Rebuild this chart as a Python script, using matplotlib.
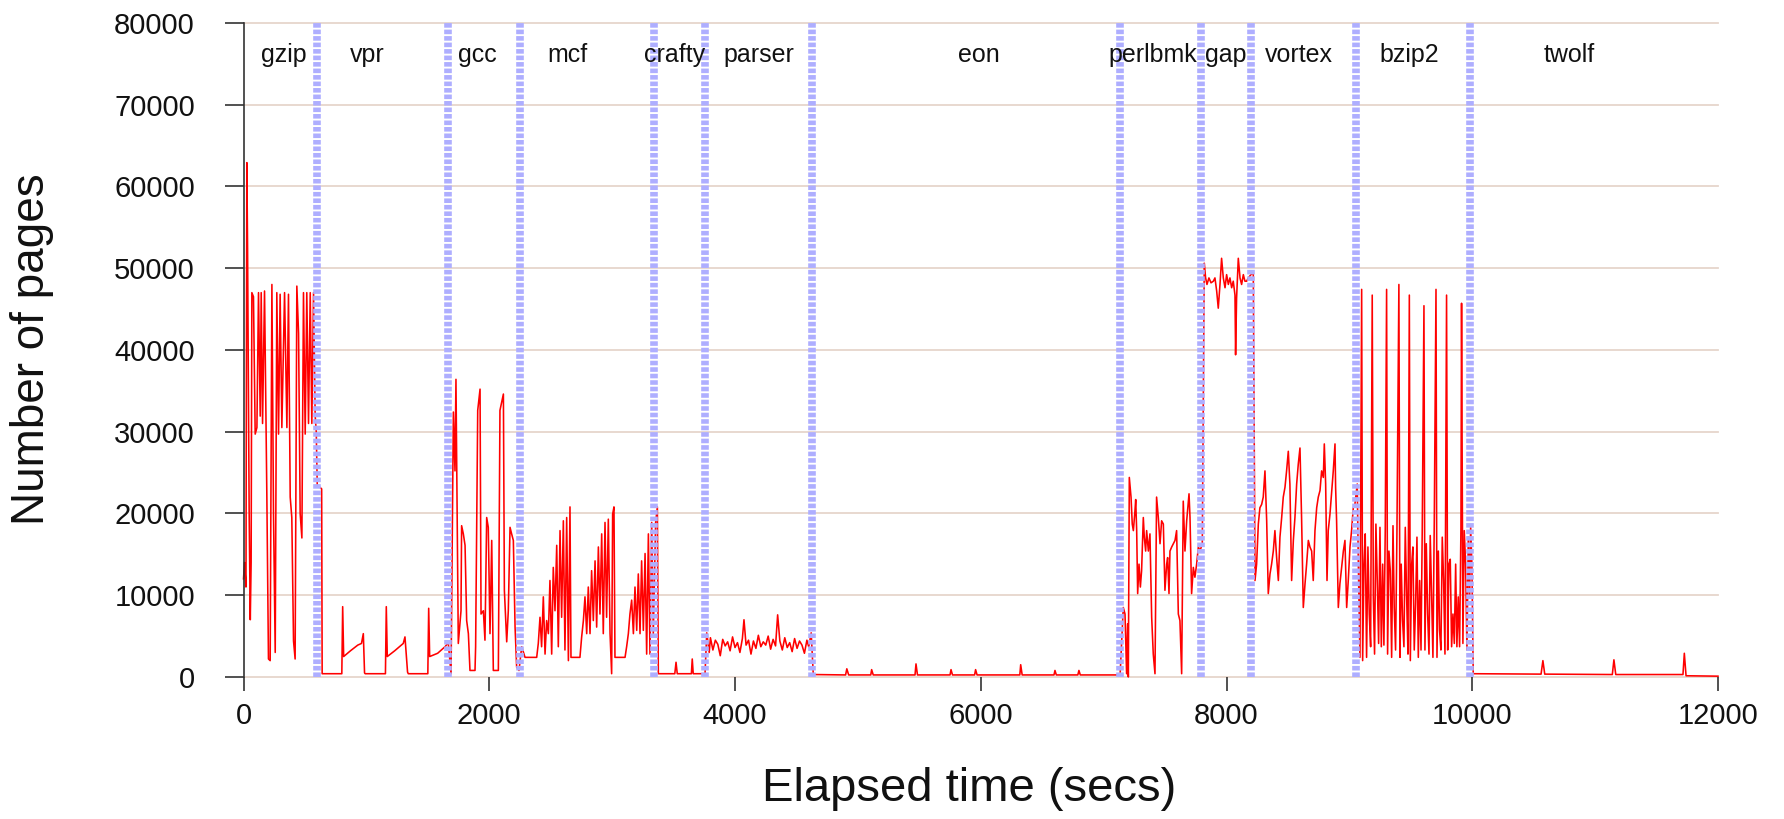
import matplotlib
matplotlib.use("Agg")
import matplotlib.pyplot as plt
import numpy as np

plt.rcParams['font.family'] = ['Liberation Sans', 'DejaVu Sans']

# benchmark boundaries (secs) and label positions
bounds = [595, 1664, 2250, 3343, 3756, 4630, 7134, 7790, 8197, 9058, 9981]
bench_names = ['gzip', 'vpr', 'gcc', 'mcf', 'crafty', 'parser', 'eon',
               'perlbmk', 'gap', 'vortex', 'bzip2', 'twolf']
label_x = [324, 1009, 1907, 2639, 3509, 4194, 5981, 7398, 7991, 8593, 9491, 10790]

# page counts, one pair of lists per benchmark
gzip_t = [0, 8, 20, 27, 33, 46, 55, 62, 68, 81, 95, 109, 122, 136, 144, 155, 171,
          190, 203, 217, 231, 244, 258, 271, 285, 298, 312, 334, 353, 366, 380, 393,
          407, 420, 434, 448, 461, 475, 488, 502, 515, 529, 543, 556, 570, 583]
gzip_p = [12000, 14000, 11000, 62900, 52400, 20000, 7000, 14000, 47000, 46500, 29700,
          30500, 47000, 31900, 47000, 31000, 47200, 22000, 2200, 2000, 48000, 20000,
          3000, 47000, 29700, 46800, 30500, 47000, 30500, 46800, 22000, 19500, 4400,
          2200, 47800, 42000, 20000, 17000, 47000, 29700, 47000, 31000, 47000, 31000,
          47000, 32000]

vpr_t = [592, 600, 636, 640, 800, 807, 815, 870, 930, 960, 975, 985, 990, 1155, 1162,
         1170, 1230, 1300, 1314, 1335, 1341, 1500, 1507, 1515, 1580, 1640, 1662]
vpr_p = [30000, 23500, 23000, 400, 400, 8600, 2500, 3200, 3900, 4100, 5300, 500, 400,
         400, 8600, 2500, 3200, 4100, 4900, 600, 400, 400, 8400, 2500, 2900, 3700, 4100]

gcc_t = [1667, 1689, 1708, 1721, 1729, 1748, 1770, 1775, 1789, 1803, 1816, 1830, 1843,
         1884, 1889, 1906, 1925, 1933, 1952, 1965, 1979, 1992, 2006, 2020, 2033, 2074,
         2087, 2115, 2123, 2142, 2155, 2169, 2182, 2196, 2210, 2223, 2242]
gcc_p = [4100, 400, 32400, 25200, 36400, 4100, 8100, 18500, 17500, 16100, 6900, 5300,
         800, 800, 3700, 32600, 35200, 7700, 8100, 4500, 19500, 18300, 5300, 16700, 800,
         800, 32600, 34600, 10600, 4300, 8100, 18300, 17500, 16700, 6100, 1200, 800]

mcf_t = [2264, 2291, 2386, 2399, 2413, 2426, 2440, 2454, 2467, 2481, 2494, 2508, 2521,
         2535, 2549, 2562, 2576, 2589, 2603, 2616, 2630, 2644, 2657, 2665, 2738, 2752,
         2766, 2779, 2793, 2806, 2820, 2833, 2847, 2861, 2874, 2888, 2901, 2915, 2928,
         2942, 2955, 2969, 2983, 2996, 3004, 3015, 3023, 3105, 3118, 3132, 3145, 3159,
         3173, 3186, 3200, 3213, 3227, 3240, 3254, 3268, 3281, 3295, 3308, 3322, 3335,
         3354, 3368]
mcf_p = [3700, 2400, 2400, 4100, 7300, 3700, 9800, 2800, 6900, 5300, 11800, 2800, 13400,
         8100, 16100, 3700, 17900, 7300, 19100, 3300, 19500, 2000, 20800, 2400, 2400,
         4900, 6900, 9800, 5300, 11000, 5300, 13000, 6900, 14200, 6100, 15900, 7700,
         17500, 5300, 18900, 7300, 19300, 5300, 400, 19900, 20800, 2400, 2400, 3700,
         5300, 7700, 9400, 5300, 11000, 5700, 12600, 5300, 14200, 5700, 15100, 2800,
         17500, 2800, 18900, 5300, 18900, 20800]

crafty_t = [3376, 3510, 3520, 3530, 3645, 3652, 3660, 3756]
crafty_p = [400, 400, 1800, 400, 400, 2200, 400, 400]

parser_t = [3770, 3790, 3800, 3820, 3840, 3860, 3880, 3900, 3920, 3940, 3960, 3980,
            4000, 4020, 4040, 4060, 4073, 4090, 4110, 4130, 4150, 4170, 4190, 4210,
            4230, 4250, 4270, 4290, 4310, 4330, 4347, 4365, 4385, 4405, 4425, 4445,
            4465, 4485, 4505, 4525, 4545, 4565, 4585, 4600, 4620]
parser_p = [5400, 3000, 4800, 3300, 4500, 4000, 2600, 4600, 3800, 4300, 3200, 4900,
            3600, 4200, 3000, 4700, 7000, 3900, 4500, 2800, 4400, 3500, 5100, 3700,
            4300, 3900, 5000, 3400, 4600, 3800, 7600, 4400, 3300, 4800, 3600, 4200,
            3100, 4700, 3500, 4400, 3900, 2900, 4500, 3700, 5400]

eon_t = [4637, 4900, 4910, 4925, 5105, 5112, 5125, 5465, 5473, 5485, 5750, 5758, 5770,
         5950, 5958, 5970, 6318, 6325, 6337, 6596, 6604, 6615, 6790, 6799, 6810, 7134]
eon_p = [300, 250, 1000, 250, 250, 900, 250, 250, 1600, 250, 250, 900, 250, 250, 900,
         250, 250, 1500, 250, 250, 800, 250, 250, 800, 250, 250]

perlbmk_t = [7160, 7174, 7187, 7195, 7201, 7209, 7223, 7233, 7242, 7255, 7261, 7269,
             7277, 7288, 7299, 7309, 7323, 7331, 7342, 7350, 7364, 7377, 7391, 7404,
             7418, 7431, 7445, 7459, 7472, 7486, 7499, 7513, 7521, 7532, 7540, 7554,
             7567, 7581, 7594, 7608, 7621, 7635, 7648, 7662, 7676, 7695, 7703, 7716,
             7730, 7743, 7757, 7771, 7784]
perlbmk_p = [8500, 7700, 400, 6500, 0, 24400, 22000, 18700, 17900, 20300, 21700, 17900,
             10200, 13800, 11000, 13000, 19500, 17100, 15400, 17900, 15400, 17500, 7300,
             2800, 400, 22000, 19500, 16300, 19100, 18700, 10600, 13800, 14600, 10200,
             15400, 15900, 16300, 16700, 17900, 7700, 6900, 400, 21500, 15400, 19100,
             22400, 19500, 10200, 13400, 12200, 13800, 15900, 15400]

gap_t = [7803, 7819, 7830, 7841, 7857, 7874, 7893, 7906, 7920, 7933, 7947, 7960, 7974,
         7988, 8001, 8015, 8028, 8042, 8055, 8069, 8074, 8082, 8096, 8110, 8123, 8137,
         8150, 8164, 8177, 8199, 8218]
gap_p = [16300, 50600, 48800, 48000, 48800, 48200, 48400, 48800, 47200, 45100, 48000,
         51200, 48800, 47600, 49200, 48000, 48800, 47600, 48400, 46700, 39400, 46300,
         51200, 48800, 48000, 49200, 48400, 48400, 48800, 49200, 49400]

vortex_t = [8232, 8245, 8259, 8272, 8286, 8299, 8313, 8327, 8340, 8354, 8367, 8381,
            8394, 8408, 8422, 8435, 8449, 8462, 8476, 8489, 8503, 8516, 8530, 8544,
            8557, 8571, 8584, 8598, 8611, 8625, 8639, 8652, 8666, 8679, 8693, 8706,
            8720, 8734, 8747, 8761, 8774, 8788, 8796, 8807, 8818, 8828, 8842, 8855,
            8869, 8883, 8888, 8896, 8910, 8923, 8937, 8951, 8964, 8978, 8991, 9005,
            9018, 9032, 9045, 9064]
vortex_p = [11800, 13800, 18700, 20700, 21100, 22000, 25200, 19100, 10200, 12600, 13800,
            15400, 17900, 14600, 11800, 17100, 19500, 22000, 23200, 25200, 27600, 23600,
            11800, 16700, 19500, 23600, 26000, 28000, 19500, 8500, 11400, 13800, 16700,
            15900, 15400, 11800, 17900, 20700, 22000, 22800, 25200, 24400, 28500, 23600,
            11800, 17900, 19900, 22400, 25200, 28500, 23200, 19100, 8500, 11400, 13400,
            15400, 16700, 8500, 11800, 15900, 17900, 20700, 21100, 23600]

bzip2_t = [9073, 9086, 9100, 9108, 9119, 9129, 9140, 9151, 9162, 9173, 9186, 9195, 9205,
           9216, 9227, 9238, 9249, 9260, 9271, 9281, 9292, 9303, 9311, 9322, 9333, 9344,
           9355, 9365, 9376, 9387, 9403, 9412, 9422, 9433, 9444, 9455, 9466, 9477, 9488,
           9496, 9507, 9517, 9528, 9539, 9550, 9561, 9572, 9583, 9593, 9607, 9615, 9626,
           9637, 9648, 9658, 9669, 9680, 9691, 9705, 9713, 9724, 9734, 9745, 9756, 9767,
           9778, 9791, 9800, 9810, 9821, 9832, 9843, 9854, 9865, 9875, 9886, 9897, 9908,
           9913, 9924, 9935, 9946, 9957, 9968, 9979, 9987, 9997]
bzip2_p = [13800, 2400, 47400, 2000, 13800, 17500, 2400, 15900, 7700, 3700, 46700, 9800,
           2800, 18700, 11800, 4100, 18300, 3700, 13800, 3900, 17900, 47400, 2800, 15400,
           13000, 2400, 18500, 8500, 3300, 17500, 48000, 2400, 13800, 6900, 3700, 18300,
           9800, 2800, 46700, 2000, 13800, 15900, 3300, 8900, 17100, 2400, 11800, 3300,
           17900, 45400, 3300, 16300, 7700, 2800, 17300, 10200, 2400, 19100, 47400, 2400,
           15400, 5700, 3300, 17100, 11800, 2800, 46700, 3300, 13800, 14400, 3700, 7700,
           4100, 13800, 3700, 9800, 3700, 18300, 45700, 4100, 17900, 13800, 3300, 17100,
           9800, 18300, 13800]

twolf_t = [10008, 10560, 10575, 10590, 11140, 11153, 11168, 11715, 11726, 11740, 12000]
twolf_p = [400, 350, 2000, 350, 300, 2100, 300, 300, 2900, 150, 100]

t = np.concatenate([gzip_t, vpr_t, gcc_t, mcf_t, crafty_t, parser_t, eon_t,
                    perlbmk_t, gap_t, vortex_t, bzip2_t, twolf_t])
pages = np.concatenate([gzip_p, vpr_p, gcc_p, mcf_p, crafty_p, parser_p, eon_p,
                        perlbmk_p, gap_p, vortex_p, bzip2_p, twolf_p])

fig = plt.figure(figsize=(17.84, 8.19), dpi=100)
ax = fig.add_axes([0.1365, 0.1734, 0.8265, 0.7988])

yticks = np.arange(0, 80001, 10000)
for y in yticks:
    ax.axhline(y, color='#e6d6cc', lw=1.3, zorder=0, clip_on=False)

ax.plot(t, pages, color='red', lw=1.15, zorder=2, clip_on=False)

# benchmark boundaries, drawn over the trace
for b in bounds:
    ax.axvline(b, color='#aeaeff', lw=5.5, dashes=(0.6, 0.25), zorder=3)

for name, lx in zip(bench_names, label_x):
    ax.text(lx, 76000, name, ha='center', va='center', fontsize=18, color='#111111')

ax.set_xlim(0, 12000)
ax.set_ylim(0, 80000)
ax.set_yticks(yticks)
ax.set_xticks(np.arange(0, 12001, 2000))

for s in ['top', 'right', 'bottom']:
    ax.spines[s].set_visible(False)
ax.spines['left'].set_color('#333333')
ax.spines['left'].set_linewidth(1.2)

ax.tick_params(axis='y', length=14, width=1.2, color='#333333', pad=21,
               labelsize=21, labelcolor='#111111')
ax.tick_params(axis='x', length=10, width=1.2, color='#333333', pad=8,
               labelsize=21, labelcolor='#111111')

fig.text(0.018, 0.574, 'Number of pages', rotation=90, ha='center', va='center',
         fontsize=33, color='#111111')
fig.text(0.5431, 0.037, 'Elapsed time (secs)', ha='center', va='center',
         fontsize=34, color='#111111')

fig.savefig('out.png', dpi=100)
